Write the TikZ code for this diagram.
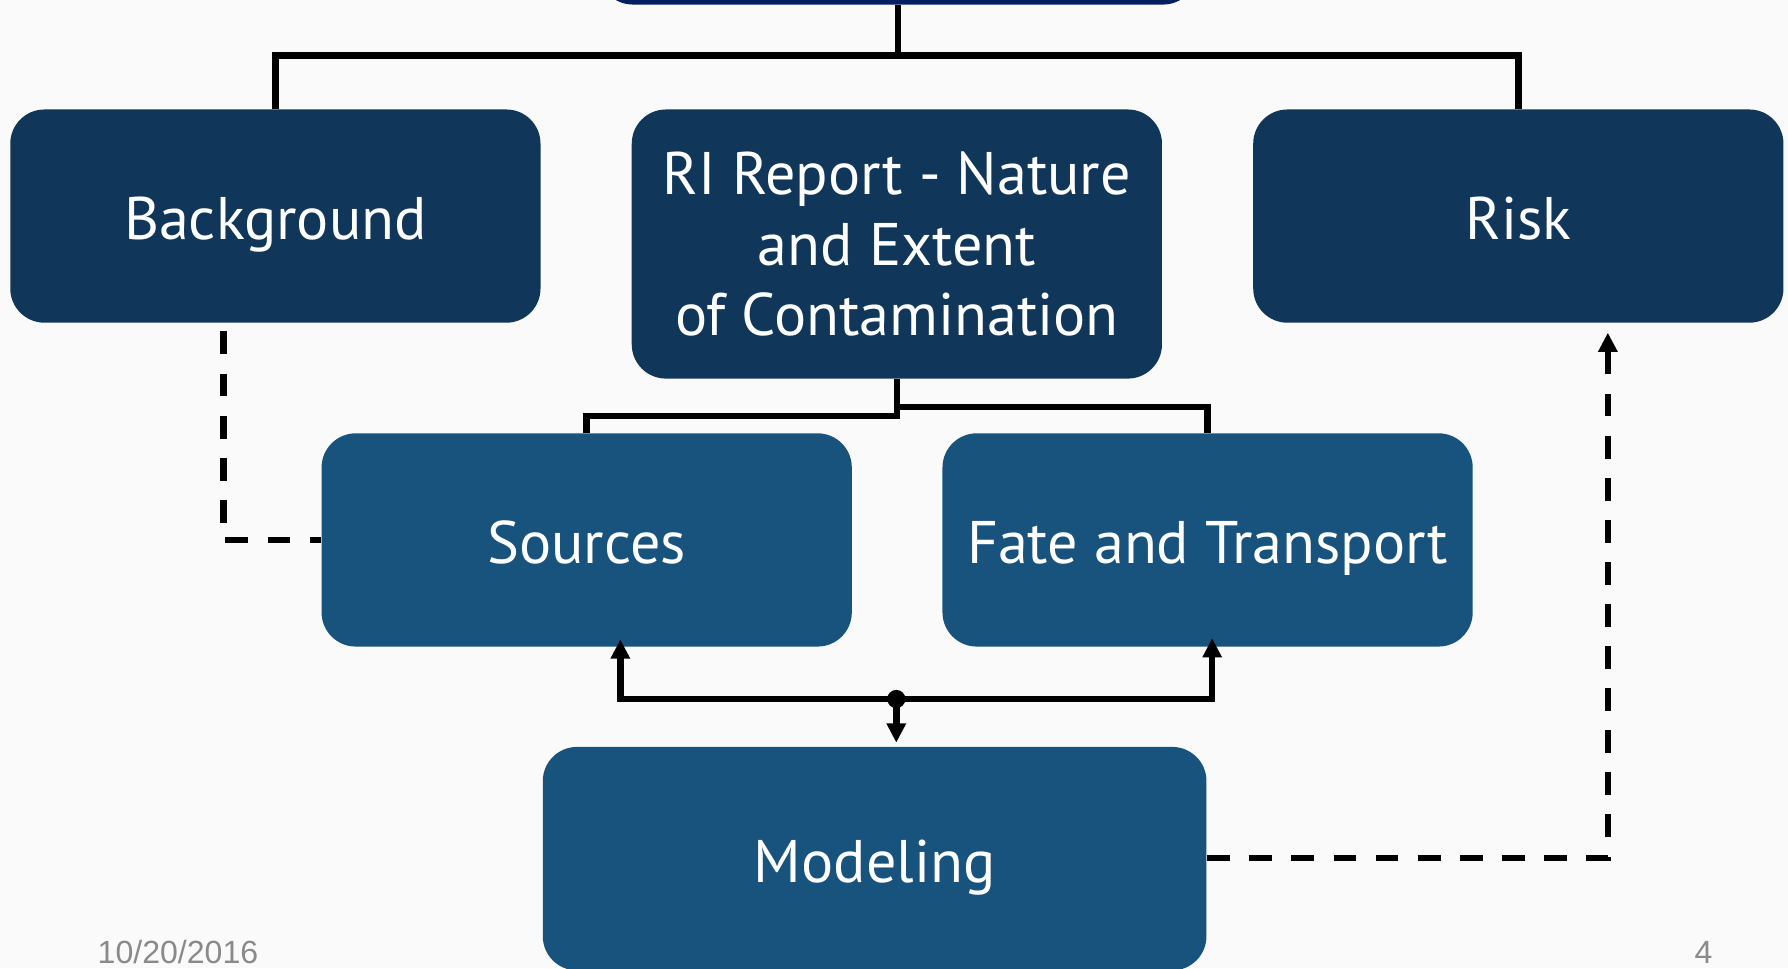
\documentclass[tikz,border=0pt]{standalone}
\usepackage{fontspec}
\setmainfont{PT Sans}
\newfontfamily\footfont{Liberation Sans}
\usetikzlibrary{arrows.meta}
\definecolor{navy}{HTML}{002060}
\definecolor{darkbox}{HTML}{10365A}
\definecolor{lightbox}{HTML}{18537E}
\definecolor{paper}{HTML}{FAFAFA}
\definecolor{footgray}{HTML}{8A8A8A}

\begin{document}
\begin{tikzpicture}

	\tikzstyle{caja}=[rounded corners=0.3cm, text=white, align=center, inner sep=0pt, minimum width=4.65cm, minimum height=1.87cm, font=\fontsize{15}{17.6}\selectfont]
	\tikzstyle{una}=[text height=11.9pt, text depth=0pt]
	\tikzstyle{lnk}=[line width=1.6pt]
	\tikzstyle{arr}=[line width=1.6pt, -{Triangle[length=4.8pt, width=4.6pt]}]
	\tikzstyle{dsh}=[line width=1.5pt, dash pattern=on 5.7pt off 4.8pt]
	\tikzstyle{pie}=[font=\footfont\fontsize{8}{9.6}\selectfont, text=footgray, inner sep=0pt]
	\tikzstyle{punto}=[circle, fill=black, inner sep=0pt, minimum size=0.16cm]

	\useasboundingbox (0,0) rectangle (15.68,-8.49);
	\fill[paper] (0,0) rectangle (15.68,-8.49);
	\clip (0,0) rectangle (15.68,-8.49);

	\coordinate (topbox) at (7.875, 0.71); % TOP
	\coordinate (bg) at (2.415, -1.895); % ROW 1
	\coordinate (ri) at (7.865, -2.14); % ROW 1
	\coordinate (risk) at (13.315, -1.895); % ROW 1
	\coordinate (src) at (5.145, -4.735); % ROW 2
	\coordinate (fat) at (10.59, -4.735); % ROW 2
	\coordinate (mod) at (7.67, -7.53); % ROW 3

	\node[caja, fill=navy, minimum width=5.25cm, minimum height=1.5cm] (topbox) at (topbox) {}; % TOP
	\node[caja, una, fill=darkbox] (bg) at (bg) {Background}; % ROW 1
	\node[caja, fill=darkbox, minimum height=2.36cm] (ri) at (ri) {RI Report - Nature\\and Extent\\of Contamination}; % ROW 1
	\node[caja, una, fill=darkbox] (risk) at (risk) {Risk}; % ROW 1
	\node[caja, una, fill=lightbox] (src) at (src) {Sources}; % ROW 2
	\node[caja, una, fill=lightbox] (fat) at (fat) {Fate and Transport}; % ROW 2
	\node[caja, una, fill=lightbox, minimum width=5.82cm, minimum height=1.96cm] (mod) at (mod) {Modeling}; % ROW 3

	\coordinate (hub) at ([yshift=-0.44cm]topbox.south);
	\coordinate (srcin) at ([xshift=0.295cm, yshift=0.07cm]src.south);
	\coordinate (fatin) at ([xshift=0.04cm, yshift=0.08cm]fat.south);
	\coordinate (modin) at ([xshift=0.19cm, yshift=0.03cm]mod.north);
	\coordinate (riskin) at ([xshift=0.785cm, yshift=-0.08cm]risk.south);
	\node[punto] (jn) at (7.86, -6.13) {};

	\draw[lnk] (topbox.south) -- (hub);
	\draw[lnk] (bg.north) |- (hub) -| (risk.north);

	\draw[lnk] (ri.south) -- ++(0,-0.32) -| (src.north);
	\draw[lnk] (ri.south) -- ++(0,-0.24) -| (fat.north);

	\draw[dsh] ([xshift=-0.455cm, yshift=-0.07cm]bg.south) |- (src.west);
	\draw[dsh, -{Triangle[length=4.8pt, width=4.6pt]}] ([yshift=0.01cm]mod.east) -| (riskin);

	\draw[arr] (jn.center) -| (srcin);
	\draw[arr] (jn.center) -| (fatin);
	\draw[arr] (jn.center) -- (jn.center |- modin);

	\node[pie, anchor=west] (fecha) at (0.85, -8.35) {10/20/2016};
	\node[pie] (pagina) at (14.94, -8.35) {4};
\end{tikzpicture}
\end{document}
